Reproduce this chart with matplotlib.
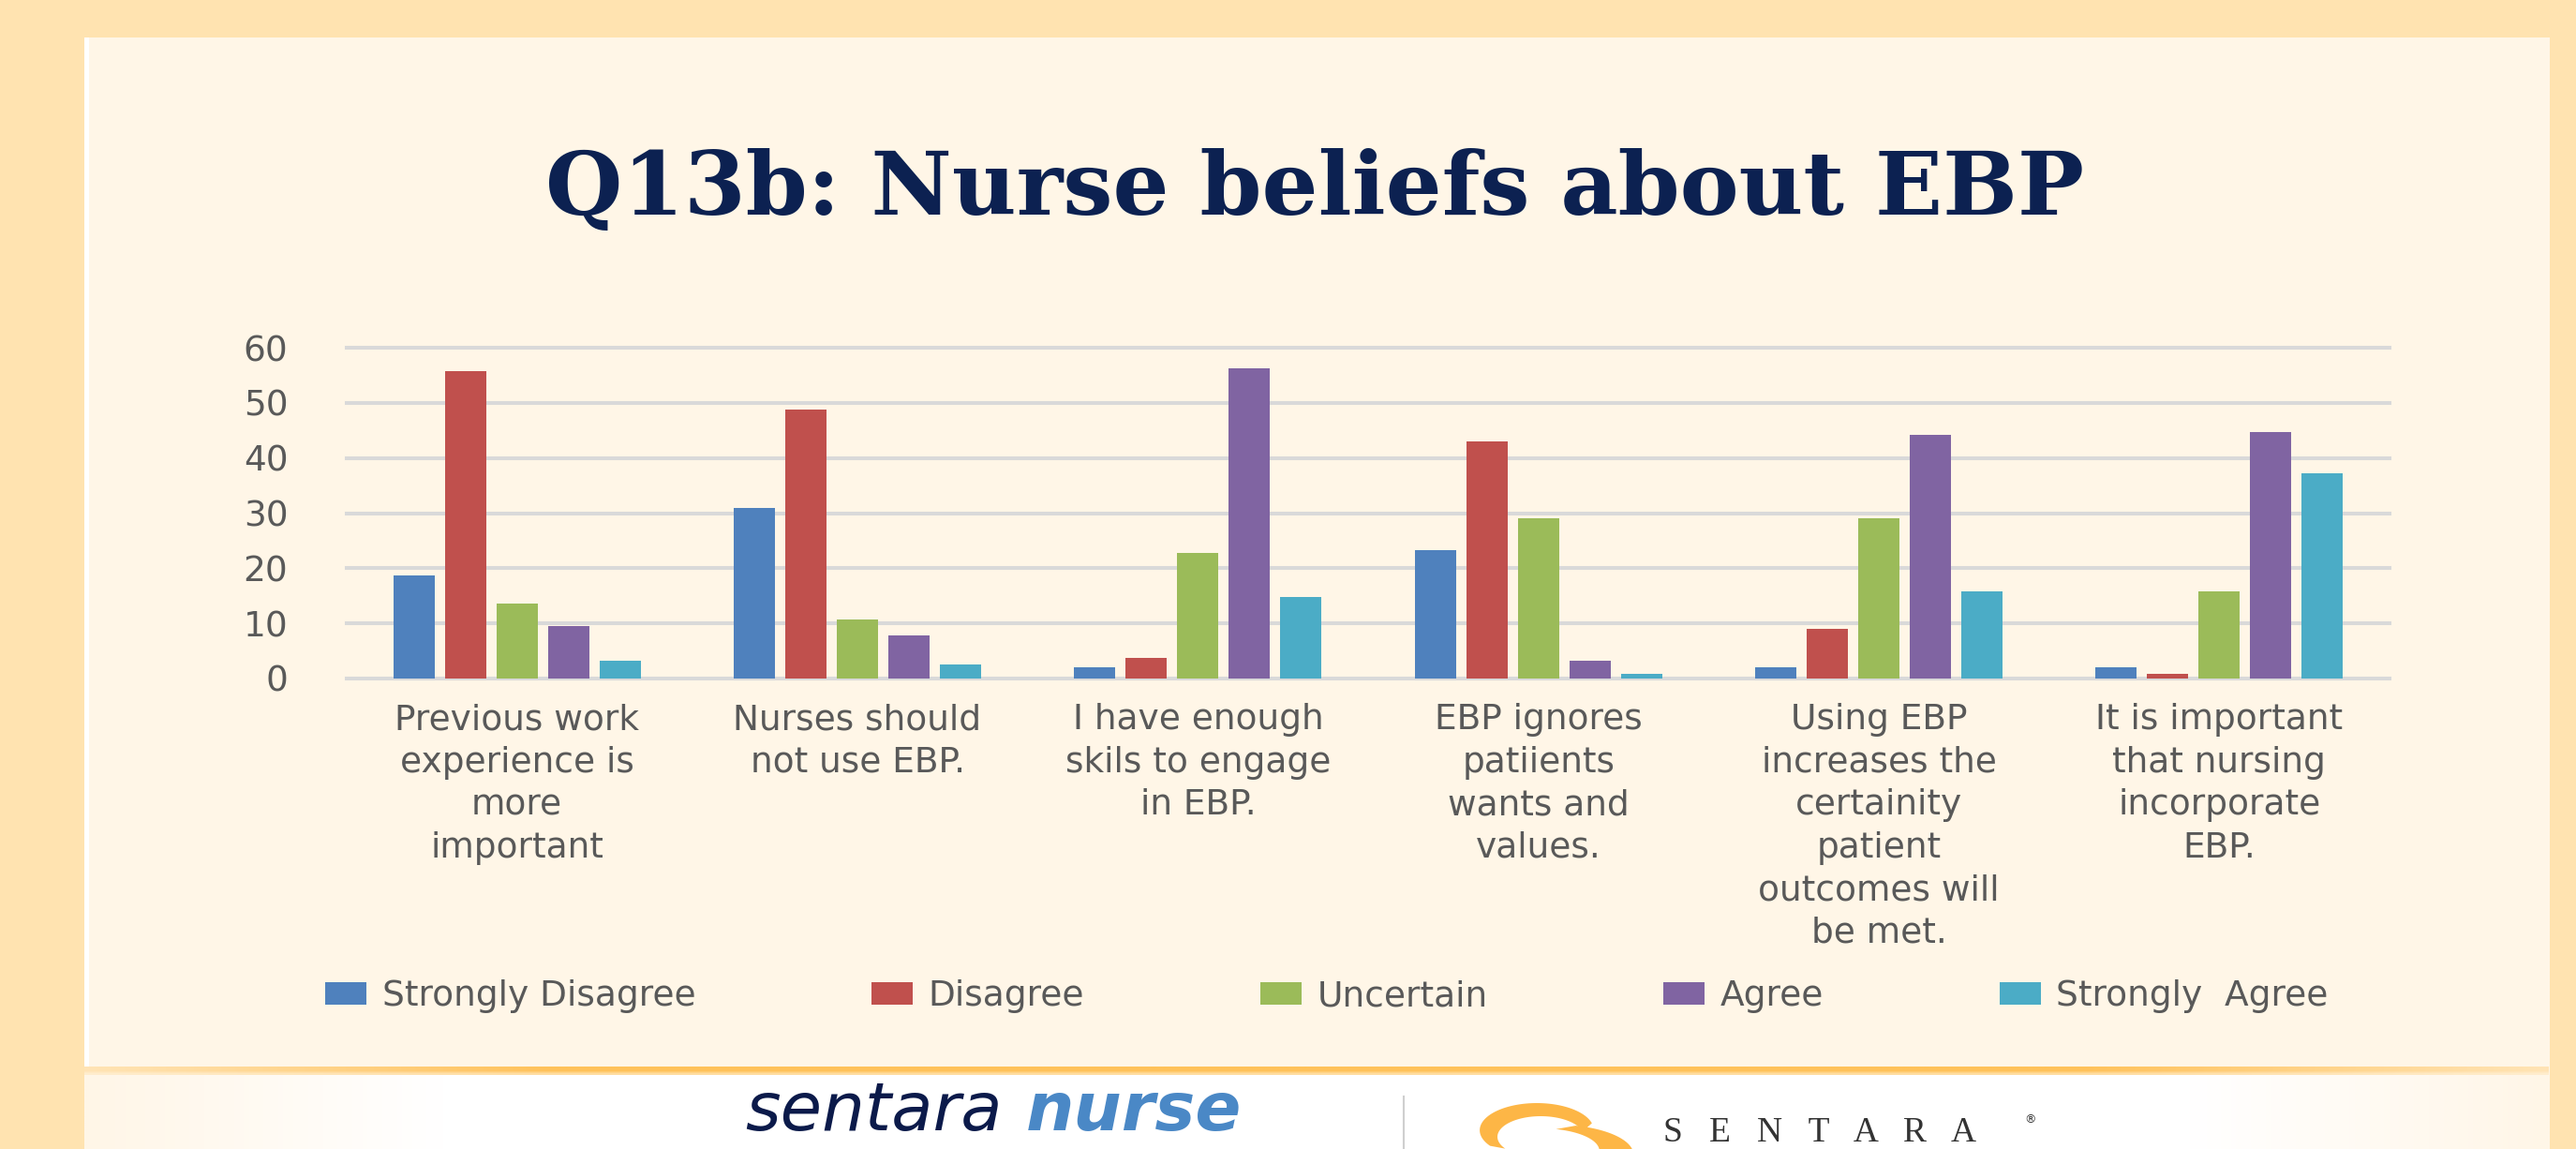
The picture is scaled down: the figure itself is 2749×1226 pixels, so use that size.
import numpy as np
import matplotlib
matplotlib.use("Agg")
import matplotlib.pyplot as plt
from matplotlib.patches import Rectangle, Polygon
from matplotlib.colors import to_rgb

# ---------------- data ----------------
categories = [
    "Previous work\nexperience is\nmore\nimportant",
    "Nurses should\nnot use EBP.",
    "I have enough\nskils to engage\nin EBP.",
    "EBP ignores\npatiients\nwants and\nvalues.",
    "Using EBP\nincreases the\ncertainity\npatient\noutcomes will\nbe met.",
    "It is important\nthat nursing\nincorporate\nEBP.",
]
series_names = ["Strongly Disagree", "Disagree", "Uncertain", "Agree", "Strongly  Agree"]
strongly_disagree = [18.7, 30.9, 2.0, 23.3, 2.0, 2.0]
disagree = [55.8, 48.8, 3.7, 43.0, 9.0, 0.8]
uncertain = [13.6, 10.7, 22.8, 29.1, 29.1, 15.8]
agree = [9.5, 7.8, 56.3, 3.2, 44.2, 44.7]
strongly_agree = [3.2, 2.5, 14.8, 0.8, 15.8, 37.2]
yticks = [0, 10, 20, 30, 40, 50, 60]
title = "Q13b: Nurse beliefs about EBP"

series_values = [strongly_disagree, disagree, uncertain, agree, strongly_agree]
colors = ["#4F81BD", "#C0504D", "#9BBB59", "#8064A2", "#4BACC6"]

# ---------------- figure & background ----------------
W, H = 2749, 1226
fig = plt.figure(figsize=(W / 100, H / 100), dpi=100, facecolor="#FFE3B0")

bg = fig.add_axes([0, 0, 1, 1], zorder=-10)
bg.axis("off")
panel_col = "#FFF6E7"
bg.add_patch(Rectangle((90, 40), 2631, H - 40, facecolor=panel_col, edgecolor="none", zorder=0))
bg.add_patch(Rectangle((90, 40), 5, H - 40, facecolor="#FFFFFF", edgecolor="none", zorder=0.5))

# footer gradient (white centre, cream edges)
xs = np.linspace(90, 2720, 800)
wgt = np.clip((xs - 90) / 380, 0, 1) * np.clip((2720 - xs) / 380, 0, 1)
cream = np.array(to_rgb(panel_col))
white = np.ones(3)
foot = cream[None, :] * (1 - wgt[:, None]) + white[None, :] * wgt[:, None]
bg.imshow(foot[None, :, :], extent=(90, 2720, 1226, 1147), aspect="auto", zorder=1,
          interpolation="bilinear")

# orange separator band fading at the ends
w2 = 0.35 + 0.65 * np.clip((xs - 90) / 500, 0, 1) * np.clip((2720 - xs) / 500, 0, 1)
o1 = np.array(to_rgb("#FFC25A"))
o2 = np.array(to_rgb("#FFDDA0"))
row1 = cream[None, :] * (1 - w2[:, None]) + o1[None, :] * w2[:, None]
row2 = cream[None, :] * (1 - w2[:, None]) + o2[None, :] * w2[:, None]
band = np.stack([row1, row1, row2], axis=0)
bg.imshow(band, extent=(90, 2720, 1147, 1138), aspect="auto", zorder=1.5, interpolation="bilinear")

# logos in the footer
bg.text(795, 1206, "sentara", fontsize=52, style="italic", color="#0B1A4A", va="baseline", ha="left",
        zorder=3)
bg.text(1095, 1206, "nurse", fontsize=52, style="italic", fontweight="bold", color="#4A88C6",
        va="baseline", ha="left", zorder=3)
bg.plot([1498, 1498], [1170, 1226], color="#CFCFCF", lw=1.5, zorder=3)


def crescent(cx, cy, R, r, dx, dy, t1, t2, sx, n=80):
    t = np.radians(np.linspace(t1, t2, n))
    outer = np.column_stack([cx + sx * R * np.cos(t), cy - R * np.sin(t)])
    t_rev = t[::-1]
    inner = np.column_stack([cx + sx * (dx + r * np.cos(t_rev)), cy - (dy + r * np.sin(t_rev))])
    return np.vstack([outer, inner])


swirl = "#FDB646"
bg.add_patch(Polygon(crescent(1640, 1206, 29, 22, 2, -7, 15, 215, 2.1), closed=True,
                     facecolor=swirl, edgecolor="none", zorder=3))
bg.add_patch(Polygon(crescent(1660, 1232, 32, 24, -6, 4, -170, 75, 2.6), closed=True,
                     facecolor=swirl, edgecolor="none", zorder=3))
bg.text(1775, 1218, "S   E   N   T   A   R   A", fontsize=27, family="Liberation Serif",
        color="#333333", va="baseline", ha="left", zorder=3)
bg.text(2160, 1198, "®", fontsize=9, family="DejaVu Sans", color="#333333", va="baseline",
        ha="left", zorder=3)

bg.set_xlim(0, W)
bg.set_ylim(H, 0)

# ---------------- title ----------------
fig.text(1403 / W, 1 - 229 / H, title, ha="center", va="baseline", fontsize=68,
         fontweight="bold", family="DejaVu Serif", color="#0C2151")

# ---------------- chart ----------------
ax = fig.add_axes([370 / W, 1 - 724 / H, 2180 / W, 353 / H])
ax.patch.set_alpha(0)
for sp in ax.spines.values():
    sp.set_visible(False)

x = np.arange(len(categories))
slot = 55 / 363.3
bw = 44 / 363.3
handles = []
for i, (name, vals, col) in enumerate(zip(series_names, series_values, colors)):
    b = ax.bar(x + (i - 2) * slot, vals, width=bw, color=col, label=name, zorder=3)
    handles.append(b)

for v in yticks:
    ax.axhline(v, color="#D9D9D9", lw=2.9, zorder=1, clip_on=False)

ax.set_xlim(-0.5, len(categories) - 0.5)
ax.set_ylim(yticks[0], yticks[-1])
ax.set_yticks(yticks)
ax.set_yticklabels([str(t) for t in yticks])
ax.tick_params(axis="y", length=0, pad=45, labelsize=27, labelcolor="#595959")
ax.set_xticks(x)
ax.set_xticklabels(categories, fontsize=27, color="#595959", linespacing=1.34)
ax.tick_params(axis="x", length=0, pad=19)

fig.legend(handles=handles, labels=series_names, loc="center",
           bbox_to_anchor=(1416 / W, 1 - 1063 / H), ncol=5, frameon=False, fontsize=27,
           handlelength=1.17, handleheight=0.61, handletextpad=0.45, columnspacing=5.0,
           labelcolor="#595959")

fig.savefig("out.png", dpi=100, facecolor=fig.get_facecolor())
